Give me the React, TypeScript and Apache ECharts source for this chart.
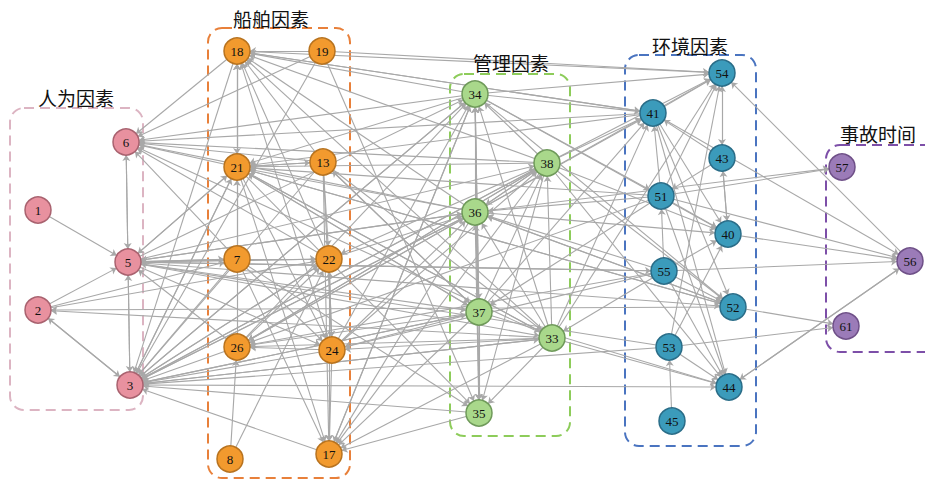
import React, { useEffect, useRef } from "react";
import * as echarts from "echarts";

const groupNames = ["人为因素", "船舶因素", "管理因素", "环境因素", "事故时间"];
const nodeIds = ["1", "2", "3", "5", "6", "18", "19", "21", "13", "7", "22", "26", "24", "8", "17", "34", "38", "36", "37", "33", "35", "54", "41", "43", "51", "40", "55", "52", "53", "44", "45", "57", "56", "61"];
const nodeGroup = [0, 0, 0, 0, 0, 1, 1, 1, 1, 1, 1, 1, 1, 1, 1, 2, 2, 2, 2, 2, 2, 3, 3, 3, 3, 3, 3, 3, 3, 3, 3, 4, 4, 4];
const nodeX = [38, 38, 130, 128, 126, 237, 322, 237, 323, 237, 329, 237, 332, 230, 329, 475, 547, 475, 479, 552, 479, 722, 653, 722, 661, 728, 664, 733, 669, 729, 672, 842, 910, 846];
const nodeY = [210, 310, 385, 262, 142, 51, 51, 167, 162, 259, 259, 347, 350, 459, 454, 94, 163, 212, 312, 338, 413, 73, 113, 158, 196, 234, 271, 307, 347, 387, 421, 167, 261, 326];

const adjacency: [string, string[]][] = [
  ["1", ["5"]],
  ["2", ["5", "7", "22", "3"]],
  ["3", ["2", "5", "21", "36", "38", "34", "37", "33", "22", "44"]],
  ["5", ["6", "3", "21", "7", "22", "36", "38", "34", "37", "24", "33", "52", "55"]],
  ["6", ["5"]],
  ["7", ["6", "18", "22", "17", "24", "3", "5", "35"]],
  ["8", ["26", "22"]],
  ["13", ["6", "18", "21", "22", "24", "3", "17", "37", "33"]],
  ["17", ["3", "34"]],
  ["18", ["6", "3", "21", "41", "54"]],
  ["19", ["6", "18", "54", "3", "35"]],
  ["21", ["6", "18", "3", "5", "13", "24", "17", "35", "33", "37", "52"]],
  ["22", ["6", "18", "24", "3", "17", "5", "36"]],
  ["24", ["18", "3", "17", "22", "34", "36", "38", "26"]],
  ["26", ["18", "3", "22", "34", "36", "38", "5", "21"]],
  ["33", ["3", "6", "17", "26", "24", "34", "38", "36", "35", "41", "44", "18", "21", "54", "2"]],
  ["34", ["6", "18", "21", "3", "35", "37", "17", "41", "54", "40", "52", "51"]],
  ["35", ["34", "3", "17"]],
  ["36", ["34", "6", "21", "3", "17", "18", "35", "38", "41", "54", "40", "52", "57", "26", "5"]],
  ["37", ["34", "36", "38", "3", "17", "35", "21", "26", "41", "44", "13", "24"]],
  ["38", ["34", "6", "21", "18", "3", "17", "35", "36", "41", "54", "40", "52", "44", "22", "26"]],
  ["40", ["56", "43"]],
  ["41", ["54", "18", "6", "21", "44", "56", "40", "52"]],
  ["43", ["54", "41", "40", "51"]],
  ["44", ["56"]],
  ["45", ["53"]],
  ["51", ["54", "41", "40", "44", "57", "21", "36", "37", "26", "56"]],
  ["52", ["2", "61", "36", "21"]],
  ["53", ["40", "54", "44", "5", "3", "61"]],
  ["54", ["43"]],
  ["55", ["40", "52", "44", "56", "51", "26", "36", "33", "24", "5"]],
  ["56", ["54", "44"]],
];

const fills = ["#e8919f", "#f29a2e", "#a9d88b", "#3b9bbb", "#9b7bb8"];
const borders = ["#a9626f", "#b8731f", "#6f9a5a", "#2a6d88", "#6f5088"];
const boxColors = ["#dcb4c2", "#e8803a", "#8dcc5a", "#4a74c0", "#7d4fa8"];

export default function App() {
  const ref = useRef<HTMLDivElement>(null);
  useEffect(() => {
    if (!ref.current) return;
    const chart = echarts.init(ref.current, null, { renderer: "svg" });
    const nodes = nodeIds.map((id, i) => ({
      name: id,
      value: [nodeX[i], nodeY[i]],
      itemStyle: { color: fills[nodeGroup[i]], borderColor: borders[nodeGroup[i]], borderWidth: 1.5 },
    }));
    const links: { source: string; target: string }[] = [];
    adjacency.forEach(([s, ts]) => ts.forEach((t) => links.push({ source: s, target: t })));

    const boxes = [
      { x: 10, y: 108, w: 133, h: 302 },
      { x: 208, y: 28, w: 142, h: 450 },
      { x: 450, y: 74, w: 120, h: 362 },
      { x: 625, y: 55, w: 131, h: 391 },
      { x: 826, y: 145, w: 120, h: 207 },
    ];
    const labelPos = [
      [76, 97], [271, 18], [511, 62], [690, 45], [878, 133],
    ];
    const graphic: any[] = [];
    boxes.forEach((b, i) => {
      graphic.push({
        type: "rect",
        shape: { x: b.x, y: b.y, width: b.w, height: b.h, r: 14 },
        style: { fill: "none", stroke: boxColors[i], lineWidth: 2, lineDash: [10, 6] },
        z: 1,
        silent: true,
      });
      graphic.push({
        type: "text",
        x: labelPos[i][0],
        y: labelPos[i][1],
        style: {
          text: groupNames[i],
          font: '19px "Noto Sans CJK SC"',
          fill: "#111",
          align: "center",
          verticalAlign: "middle",
        },
        z: 10,
      });
    });

    chart.setOption({
      animation: false,
      backgroundColor: "#ffffff",
      grid: { left: 0, right: 0, top: 0, bottom: 0 },
      xAxis: { type: "value", min: 0, max: 925, show: false },
      yAxis: { type: "value", min: 0, max: 479, inverse: true, show: false },
      graphic,
      series: [
        {
          type: "graph",
          coordinateSystem: "cartesian2d",
          symbol: "circle",
          symbolSize: 26,
          data: nodes,
          links,
          edgeSymbol: ["none", "arrow"],
          edgeSymbolSize: [0, 6],
          lineStyle: { color: "#a8a8a8", width: 1.1, opacity: 1, curveness: 0 },
          label: {
            show: true,
            position: "inside",
            fontFamily: '"Liberation Serif", serif',
            fontSize: 13,
            color: "#111",
          },
          emphasis: { disabled: true },
          z: 2,
        },
      ],
    });
    return () => chart.dispose();
  }, []);
  return <div ref={ref} style={{ position: "fixed", left: 0, top: 0, width: 925, height: 479 }} />;
}
